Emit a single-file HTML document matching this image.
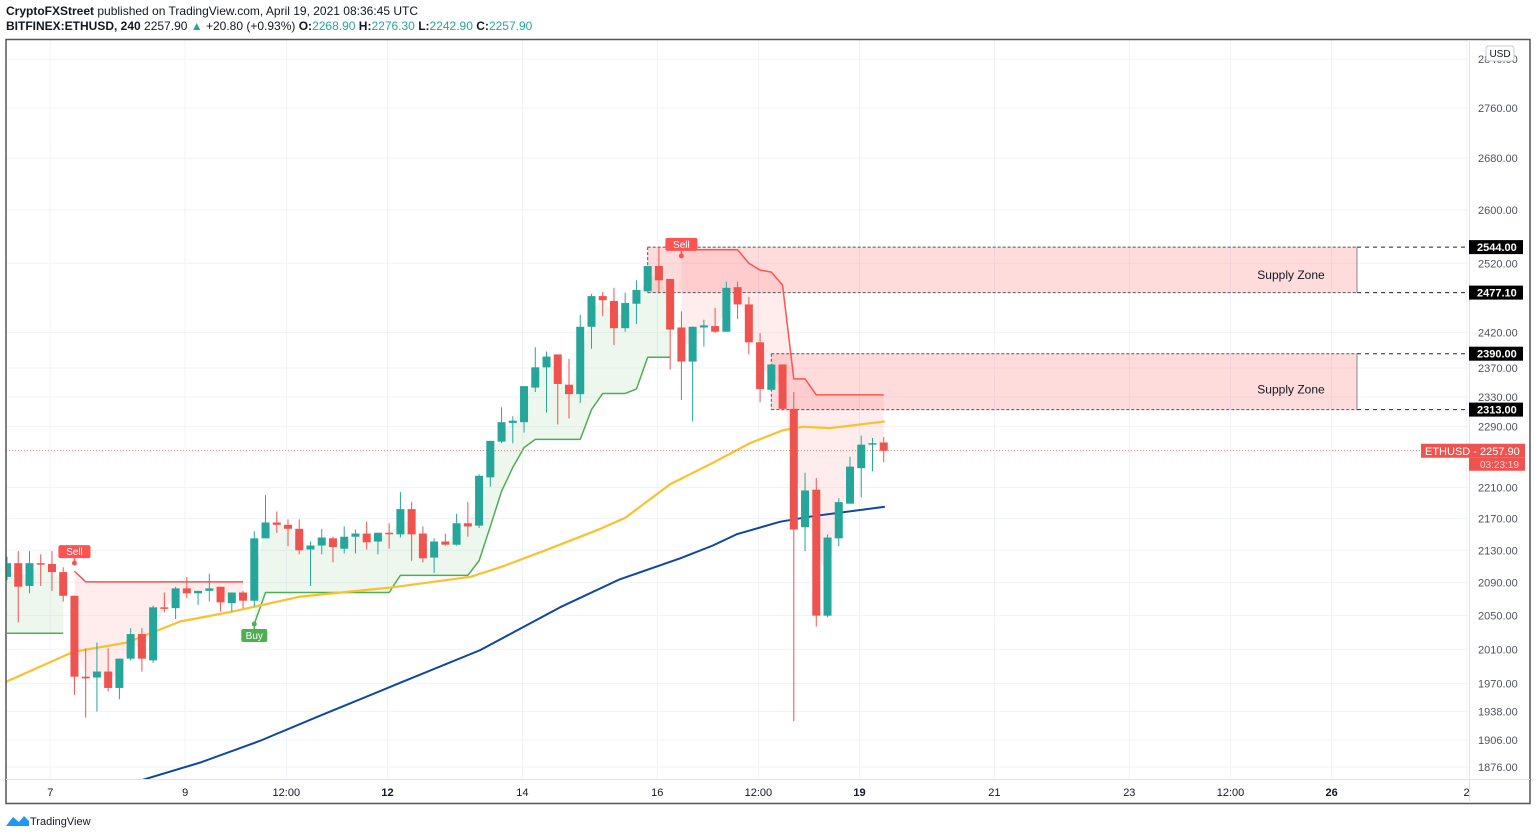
<!DOCTYPE html>
<html><head><meta charset="utf-8">
<style>
html,body{margin:0;padding:0;background:#fff;width:1536px;height:837px;overflow:hidden;font-family:"Liberation Sans",sans-serif;}
svg text{font-family:"Liberation Sans",sans-serif;}
</style></head>
<body>
<svg id="chart" width="1536" height="837" viewBox="0 0 1536 837" xmlns="http://www.w3.org/2000/svg">
<text x="6" y="15" font-size="12" fill="#131722"><tspan font-weight="bold">CryptoFXStreet</tspan> published on TradingView.com, April 19, 2021 08:36:45 UTC</text>
<text x="6" y="30" font-size="12" fill="#131722"><tspan font-weight="bold">BITFINEX:ETHUSD, 240</tspan>  2257.90 <tspan fill="#26a69a">▲</tspan> +20.80 (+0.93%) <tspan font-weight="bold">O:</tspan><tspan fill="#26a69a">2268.90</tspan> <tspan font-weight="bold">H:</tspan><tspan fill="#26a69a">2276.30</tspan> <tspan font-weight="bold">L:</tspan><tspan fill="#26a69a">2242.90</tspan> <tspan font-weight="bold">C:</tspan><tspan fill="#26a69a">2257.90</tspan></text>
<g id="grid"></g>
<g id="plot"></g>
<rect x="6" y="39.5" width="1524" height="764" fill="none" stroke="#555" stroke-width="1.5"/>
<line x1="1469.5" y1="40" x2="1469.5" y2="803" stroke="#e0e3eb"/>
<line x1="6" y1="779.5" x2="1530" y2="779.5" stroke="#e0e3eb"/>
<g id="yaxis"></g>
<g id="xaxis"></g>
<g><rect x="1486" y="46" width="28" height="15" rx="3" fill="#fff" stroke="#c8c8c8"/><text x="1500" y="57" font-size="10" text-anchor="middle" fill="#131722">USD</text></g>
<g>
<path d="M6 826 L13 817 L19 822 L24 816 L29 821 L29 826 Z" fill="#2196f3"/>
<text x="30" y="825" font-size="11" fill="#131722">TradingView</text></g>
</svg>
<script>
const opens=[2097,2114,2086,2114,2113,2103,2074,1978,1977,1984,1965,1999,2028,1997,2060,2059,2083,2077,2080,2085,2065,2078,2068,2145,2165,2162,2157,2131,2136,2145,2132,2147,2151,2141,2152,2150,2182,2151,2121,2141,2137,2164,2161,2223,2270,2295,2296,2343,2371,2389,2347,2334,2428,2472,2465,2426,2461,2479,2516,2497,2427,2379,2427,2429,2421,2485,2460,2406,2340,2375,2314,2159,2207,2050,2145,2189,2235,2267,2268.9];
const highs=[2122,2129,2129,2125,2129,2109,2074,2011,2018,2011,1999,2035,2035,2062,2078,2085,2097,2080,2101,2085,2078,2080,2154,2200,2179,2169,2169,2141,2157,2147,2160,2156,2166,2152,2164,2204,2191,2160,2145,2151,2176,2191,2227,2271,2316,2304,2345,2399,2393,2389,2383,2445,2475,2478,2484,2477,2495,2516,2544,2497,2450,2428,2438,2455,2493,2493,2471,2419,2375,2375,2337,2229,2222,2150,2196,2250,2278,2275,2276.3];
const lows=[2093,2042,2077,2086,2080,2067,1957,1931,1938,1961,1952,1997,1984,1994,2054,2046,2071,2063,2067,2055,2055,2059,2061,2145,2152,2135,2125,2086,2125,2115,2126,2126,2131,2125,2132,2146,2117,2115,2102,2136,2136,2147,2158,2211,2268,2268,2282,2337,2309,2293,2301,2322,2397,2443,2402,2421,2432,2478,2477,2368,2326,2297,2400,2419,2421,2439,2389,2323,2340,2312,1927,2129,2037,2048,2135,2189,2197,2231,2242.9];
const closes=[2114,2085,2114,2113,2103,2074,1978,1976,1984,1965,1999,2028,1999,2060,2059,2083,2077,2080,2083,2066,2078,2068,2145,2165,2162,2157,2130,2136,2146,2134,2147,2151,2140,2152,2151,2182,2150,2120,2141,2137,2164,2160,2225,2271,2296,2298,2345,2371,2386,2348,2334,2428,2472,2466,2426,2462,2481,2516,2495,2424,2379,2428,2430,2421,2484,2460,2406,2341,2375,2314,2156,2206,2050,2146,2191,2237,2266,2268,2257.9];
const emaFastIdx=[-0.1,5.9,10.7,15.4,20.1,26.1,34.1,41.2,43.9,47.9,52.8,55.0,59.0,62.8,66.1,69.0,70.8,73.2,78.1];
const emaFastVal=[1972,2007,2018,2043,2055,2073,2084,2097,2109,2130,2157,2171,2214,2242,2268,2285,2290,2288,2297];
const emaSlowIdx=[11.8,17.2,22.5,27.8,35,42.1,49.2,54.5,59.9,62.8,64.9,68.8,71.7,78.1];
const emaSlowVal=[1861,1881,1905,1933,1971,2009,2060,2094,2120,2136,2150,2166,2173,2185];
const stUp1Idx=[0,5], stUp1Val=[2029,2029];
const stDn1Idx=[6,7,21], stDn1Val=[2104,2091,2091];
const stUp2Idx=[22,23,34,35,41,42,43,44,45,46,47,51,52,53,55,56,57,59];
const stUp2Val=[2040,2078,2078,2099,2099,2117,2160,2205,2236,2262,2273,2273,2313,2335,2335,2341,2385,2385];
const stDn2Idx=[60,65,66,67,68,69,70,71,72,78];
const stDn2Val=[2540,2540,2520,2510,2507,2488,2355,2355,2333,2333];
const zoneTop=[2544,2390], zoneBot=[2477.1,2313], zoneStart=[57.0,68.0];
const yTicks=[2840,2760,2680,2600,2520,2420,2370,2330,2290,2210,2170,2130,2090,2050,2010,1970,1938,1906,1876];
const xTickLabels=["7","9","12:00","12","14","16","12:00","19","21","23","12:00","26","2"];
const xTickHours=[0,48,84,120,168,216,252,288,336,384,420,456,504];
const xTickBold=[false,false,false,true,false,false,false,true,false,false,false,true,false];
const lastPrice=2257.9;

const NS="http://www.w3.org/2000/svg";
const X=i=>7+11.24*i;
const Y=p=>108+1707*Math.log(2760/p);
const GREEN="#26a69a",RED="#ef5350";
function mk(parent,tag,attrs){const e=document.createElementNS(NS,tag);for(const k in attrs)e.setAttribute(k,attrs[k]);parent.appendChild(e);return e;}
const grid=document.getElementById('grid'),plot=document.getElementById('plot'),yax=document.getElementById('yaxis'),xax=document.getElementById('xaxis');
const clipDef=mk(document.getElementById('chart'),'clipPath',{id:'pc'});mk(clipDef,'rect',{x:6,y:40,width:1463,height:739});
plot.setAttribute('clip-path','url(#pc)');

yTicks.forEach(p=>{const y=Y(p);
 const g=mk(grid,'line',{x1:6,x2:1469,y1:y,y2:y,stroke:'#f0f3fa'});
 
 const t=mk(yax,'text',{x:1478,y:y+4,'font-size':11,fill:'#50535e'});t.textContent=p.toFixed(2);
 });
xTickLabels.forEach((l,k)=>{const x=X(xTickHours[k]/4+3.85);
 const g=mk(grid,'line',{x1:x,x2:x,y1:40,y2:779,stroke:'#f0f3fa'});
 
 const t=mk(xax,'text',{x:x,y:796,'font-size':11,'text-anchor':'middle',fill:'#131722','font-weight':xTickBold[k]?'bold':'normal'});t.textContent=l;
 });

function interp(idx,val,i){if(i<=idx[0])return val[0];for(let k=1;k<idx.length;k++){if(i<=idx[k]){const f=(i-idx[k-1])/(idx[k]-idx[k-1]);return val[k-1]+f*(val[k]-val[k-1]);}}return val[val.length-1];}
function stFill(idx,val,color,name){const a=idx[0],b=idx[idx.length-1];let top=[],bot=[];
 for(let i=a;i<=b;i++){const m=(opens[i]+closes[i])/2;top.push(X(i)+','+Y(interp(idx,val,i)));bot.unshift(X(i)+','+Y(m));}
 const p=mk(plot,'polygon',{points:top.concat(bot).join(' '),fill:color});
 }
function poly(idx,val,color,w,name){const pts=idx.map((i,k)=>X(i)+','+Y(val[k])).join(' ');
 const p=mk(plot,'polyline',{points:pts,fill:'none',stroke:color,'stroke-width':w,'stroke-linejoin':'round'});
 }

stFill(stUp1Idx,stUp1Val,'rgba(76,175,80,0.1)','supertrend-up-fill');
stFill(stDn1Idx,stDn1Val,'rgba(255,82,82,0.1)','supertrend-down-fill');
stFill(stUp2Idx,stUp2Val,'rgba(76,175,80,0.1)','supertrend-up-fill');
stFill(stDn2Idx,stDn2Val,'rgba(255,82,82,0.1)','supertrend-down-fill');

zoneTop.forEach((t,k)=>{const x0=X(zoneStart[k]),y0=Y(t),y1=Y(zoneBot[k]);
 const r=mk(plot,'rect',{x:x0,y:y0,width:1357-x0,height:y1-y0,fill:'rgba(255,82,82,0.2)'});
 
 [y0,y1].forEach(y=>{const l=mk(plot,'line',{x1:x0,x2:1357,y1:y,y2:y,stroke:'#555','stroke-dasharray':'3,2'});
  
  const d=mk(plot,'line',{x1:1357,x2:1469,y1:y,y2:y,stroke:'#222','stroke-dasharray':'4,4'});
  });
 const v=mk(plot,'line',{x1:1357,x2:1357,y1:y0,y2:y1,stroke:'#888'});
 const vl=mk(plot,'line',{x1:x0,x2:x0,y1:y0,y2:y1,stroke:'#555','stroke-dasharray':'3,2'});
 const tx=mk(plot,'text',{x:1291,y:(y0+y1)/2+(k?12:9),'font-size':12,'text-anchor':'middle',fill:'#131722'});tx.textContent='Supply Zone';
 });

poly(stUp1Idx,stUp1Val,'#4caf50',1.5,'supertrend-up-line');
poly(stDn1Idx,stDn1Val,'#ff5252',1.5,'supertrend-down-line');
poly(stUp2Idx,stUp2Val,'#4caf50',1.5,'supertrend-up-line');
poly(stDn2Idx,stDn2Val,'#ff5252',1.5,'supertrend-down-line');
poly(emaFastIdx,emaFastVal,'#fbc02d',2.2,'ema-fast-line');
poly(emaSlowIdx,emaSlowVal,'#0d47a1',2,'ema-slow-line');

const pl=mk(plot,'line',{x1:6,x2:1469,y1:Y(lastPrice),y2:Y(lastPrice),stroke:'#ef5350','stroke-dasharray':'1,2','stroke-width':0.8});


opens.forEach((o,i)=>{const c=closes[i],col=c>=o?GREEN:RED,x=X(i);
 const g=mk(plot,'g',{});
 
 mk(g,'line',{x1:x,x2:x,y1:Y(highs[i]),y2:Y(lows[i]),stroke:col,'stroke-width':1});
 const yt=Y(Math.max(o,c)),yb=Y(Math.min(o,c));
 mk(g,'rect',{x:x-4,y:yt,width:8,height:Math.max(1.5,yb-yt),fill:col});});

function flag(i,price,text,color,below,name){const x=X(i),y=Y(price);
 const g=mk(plot,'g',{});
 const ly=below?y+5:y-5;
 mk(g,'line',{x1:x,x2:x,y1:y,y2:ly,stroke:color,'stroke-width':1.5});
 mk(g,'circle',{cx:x,cy:y,r:2.5,fill:color});
 const w=text.length*6+8;mk(g,'rect',{x:x-w/2,y:below?ly:ly-13,width:w,height:13,rx:2,fill:color});
 const t=mk(g,'text',{x:x,y:below?ly+10:ly-3,'font-size':10,'text-anchor':'middle',fill:'#fff'});t.textContent=text;}
flag(6,2114,'Sell','#ff5252',false,'sell-signal');
flag(22,2040,'Buy','#4caf50',true,'buy-signal');
flag(60,2531,'Sell','#ff5252',false,'sell-signal');

[2544,2477.1,2390,2313].forEach(p=>{const y=Y(p);const g=mk(yax,'g',{});
 
 mk(g,'rect',{x:1469,y:y-7,width:54,height:14,fill:'#000'});
 const t=mk(g,'text',{x:1477,y:y+4,'font-size':11,'font-weight':'bold',fill:'#fff'});t.textContent=p.toFixed(2);});
const ly=Y(lastPrice);const lg=mk(yax,'g',{});

mk(lg,'rect',{x:1421,y:ly-7,width:104,height:14,fill:'#ef5350'});
mk(lg,'rect',{x:1469,y:ly+7,width:56,height:13,fill:'#ef5350'});
const lt=mk(lg,'text',{x:1425,y:ly+4,'font-size':11,fill:'#fff'});lt.textContent='ETHUSD - '+lastPrice.toFixed(2);
const ct=mk(lg,'text',{x:1480,y:ly+17,'font-size':10,fill:'#ffd0d0'});ct.textContent='03:23:19';
</script>
</body></html>
